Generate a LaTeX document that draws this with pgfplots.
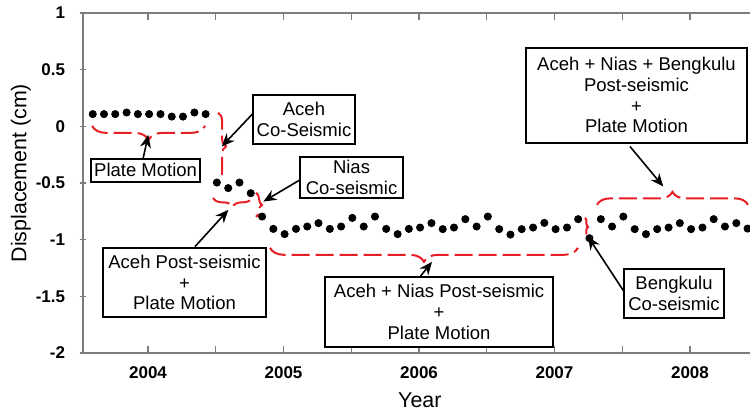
\documentclass[border=0pt]{standalone}
\usepackage{fontspec}
\setmainfont{Liberation Sans}
\usepackage{pgfplots}
\pgfplotsset{compat=1.18}
\usetikzlibrary{decorations.pathreplacing,arrows.meta}
\definecolor{bred}{RGB}{232,30,38}
\definecolor{axgray}{RGB}{125,125,125}
\begin{document}
\begin{tikzpicture}[
  box/.style={draw=black, line width=0.75bp, fill=white, align=center,
    font=\fontsize{9.25bp}{10.35bp}\selectfont, inner sep=0pt},
  arr/.style={draw=black, line width=0.8bp, -{Stealth[length=6.5bp,width=5.5bp]}},
  br/.style={draw=bred, line width=1bp, dash pattern=on 9bp off 3bp, decorate}
]
\begin{axis}[
  scale only axis,
  width=333.5bp, height=170bp,
  xmin=2003.520, xmax=2008.443,
  ymin=-2, ymax=1,
  clip=false,
  axis x line=box, axis y line=left,
  axis line style={-, draw=axgray, line width=0.7bp},
  every tick/.style={draw=axgray, line width=0.7bp},
  major tick length=3.5bp, minor tick length=3.5bp,
  xtick={2004,2005,2006,2007,2008},
  xticklabels={2004,2005,2006,2007,2008},
  minor xtick={2004.5,2005.5,2006.5,2007.5},
  ytick={-2,-1.5,-1,-0.5,0,0.5,1},
  yticklabels={-2,-1.5,-1,-0.5,0,0.5,1},
  ticklabel style={font=\fontsize{8.5bp}{10bp}\selectfont\bfseries},
  yticklabel style={xshift=-3.7bp},
  xticklabel style={yshift=-3.2bp},
  xlabel={Year},
  ylabel={Displacement (cm)},
  label style={font=\fontsize{10.7bp}{12bp}\selectfont},
  xlabel style={at={(rel axis cs:0.505,0)}, anchor=center, yshift=-23.5bp},
  ylabel style={at={(rel axis cs:-0.093,0.529)}, anchor=center},
]
\coordinate (BL) at (rel axis cs:0,0);
\coordinate (TR) at (rel axis cs:1,1);

% braces
\draw[br, decoration={brace, mirror, amplitude=7bp}] (axis cs:2003.587,0.004) -- (axis cs:2004.421,0.004);
\draw[br, decoration={brace, amplitude=4bp}] (axis cs:2004.517,0.119) -- (axis cs:2004.517,-0.472);
\draw[br, decoration={brace, mirror, amplitude=4.5bp}] (axis cs:2004.480,-0.631) -- (axis cs:2004.768,-0.631);
\draw[br, decoration={brace, amplitude=3bp}] (axis cs:2004.797,-0.587) -- (axis cs:2004.797,-0.799);
\draw[br, decoration={brace, mirror, amplitude=7bp}] (axis cs:2004.900,-1.072) -- (axis cs:2007.173,-1.072);
\draw[br, decoration={brace, amplitude=1.5bp}] (axis cs:2007.225,-0.808) -- (axis cs:2007.225,-0.966);
\draw[br, decoration={brace, amplitude=6.5bp}] (axis cs:2007.314,-0.693) -- (axis cs:2008.428,-0.693);

\addplot[only marks, mark=*, mark size=1.8bp, black] coordinates {
(2003.592,0.108) (2003.675,0.108) (2003.758,0.108) (2003.842,0.122) (2003.925,0.108)
(2004.008,0.108) (2004.092,0.108) (2004.175,0.086) (2004.258,0.086) (2004.342,0.122)
(2004.425,0.108)
(2004.508,-0.496) (2004.592,-0.545) (2004.675,-0.496) (2004.758,-0.590)
(2004.842,-0.796)
(2004.925,-0.905) (2005.008,-0.951) (2005.092,-0.905) (2005.175,-0.884) (2005.258,-0.854)
(2005.342,-0.905) (2005.425,-0.884) (2005.508,-0.808) (2005.592,-0.884) (2005.675,-0.796)
(2005.758,-0.905) (2005.842,-0.951) (2005.925,-0.905) (2006.008,-0.893) (2006.092,-0.854)
(2006.175,-0.907) (2006.258,-0.893) (2006.342,-0.819) (2006.425,-0.884) (2006.508,-0.796)
(2006.592,-0.907) (2006.675,-0.955) (2006.758,-0.907) (2006.842,-0.893) (2006.925,-0.852)
(2007.008,-0.907) (2007.092,-0.893) (2007.175,-0.819) (2007.258,-0.987) (2007.342,-0.819)
(2007.425,-0.884) (2007.508,-0.796) (2007.592,-0.907) (2007.675,-0.951) (2007.758,-0.907)
(2007.842,-0.893) (2007.925,-0.854) (2008.008,-0.907) (2008.092,-0.893) (2008.175,-0.819)
(2008.258,-0.884) (2008.342,-0.854) (2008.425,-0.902)
};

% arrows
\draw[arr] (axis cs:2003.963,-0.287) -- (axis cs:2004.002,-0.075);
\draw[arr] (axis cs:2004.777,0.117) -- (axis cs:2004.544,-0.178);
\draw[arr] (axis cs:2005.122,-0.472) -- (axis cs:2004.851,-0.664);
\draw[arr] (axis cs:2004.347,-1.061) -- (axis cs:2004.593,-0.737);
\draw[arr] (axis cs:2006.007,-1.328) -- (axis cs:2006.096,-1.196);
\draw[arr] (axis cs:2007.513,-1.458) -- (axis cs:2007.247,-0.973);
\draw[arr] (axis cs:2007.557,-0.178) -- (axis cs:2007.803,-0.531);

% boxes
\node[box, minimum width=54.5bp, minimum height=11.5bp] at (axis cs:2003.982,-0.388) {Plate Motion};
\node[box, minimum width=51bp, minimum height=24.5bp] at (axis cs:2005.151,0.062) {Aceh\\Co-Seismic};
\node[box, minimum width=51.5bp, minimum height=20.5bp] at (axis cs:2005.502,-0.450) {Nias\\Co-seismic};
\node[box, minimum width=81.5bp, minimum height=34.5bp] at (axis cs:2004.269,-1.377) {Aceh Post-seismic\\+\\Plate Motion};
\node[box, minimum width=114bp, minimum height=35bp] at (axis cs:2006.148,-1.637) {Aceh + Nias Post-seismic\\+\\Plate Motion};
\node[box, minimum width=50bp, minimum height=24.5bp] at (axis cs:2007.882,-1.474) {Bengkulu\\Co-seismic};
\node[box, minimum width=110.5bp, minimum height=47.5bp] at (axis cs:2007.605,0.274) {Aceh + Nias + Bengkulu\\Post-seismic\\+\\Plate Motion};
\end{axis}
\pgfresetboundingbox
\path[use as bounding box] ([xshift=-41.5bp,yshift=-30bp]BL) rectangle ([yshift=6.5bp]TR);
\end{tikzpicture}
\end{document}
